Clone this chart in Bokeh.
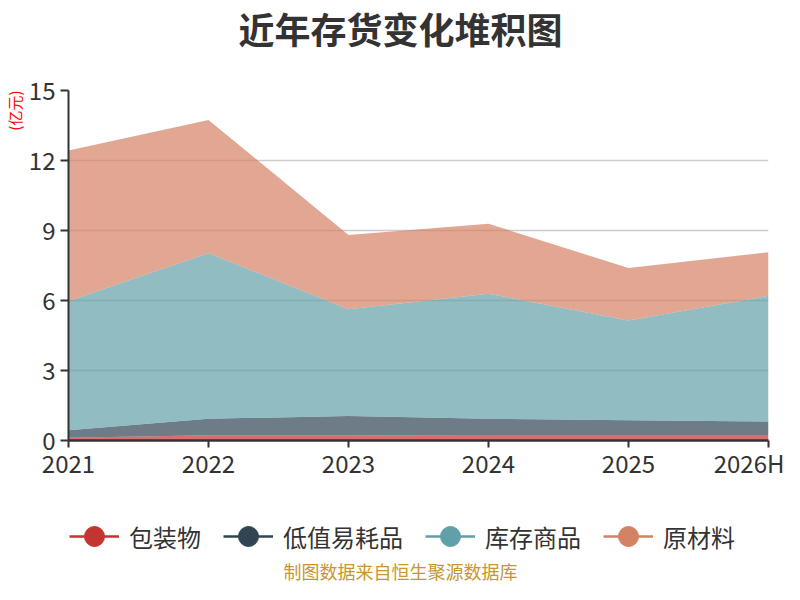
import numpy as np
from bokeh.plotting import figure
from bokeh.layouts import column
from bokeh.models import (ColumnDataSource, Range1d, FixedTicker, Legend, LegendItem,
                          Title, Label)
from bokeh.embed import file_html
from bokeh.resources import INLINE

years = ["2021", "2022", "2023", "2024", "2025", "2026H"]
packaging = [0.12, 0.23, 0.23, 0.20, 0.20, 0.20]      # 包装物
low_value = [0.32, 0.70, 0.82, 0.73, 0.67, 0.61]      # 低值易耗品
goods = [5.54, 7.10, 4.58, 5.36, 4.27, 5.39]          # 库存商品
raw = [6.45, 5.71, 3.18, 3.00, 2.25, 1.87]            # 原材料
names = ["包装物", "低值易耗品", "库存商品", "原材料"]
colors = ["#c23531", "#2f4554", "#61a0a8", "#d48265"]
y_ticks = [0, 3, 6, 9, 12, 15]

FONT = "Noto Sans CJK SC"
W = 784
TOP_H, MAIN_H, BOT_H = 70, 420, 94


def blank(height):
    f = figure(width=W, height=height, x_range=Range1d(0, 1), y_range=Range1d(0, 1),
               output_backend="svg", toolbar_location=None,
               x_axis_location=None, y_axis_location=None,
               min_border=0, min_border_left=0, min_border_right=0,
               min_border_top=0, min_border_bottom=0)
    f.outline_line_color = None
    f.xgrid.visible = False
    f.ygrid.visible = False
    return f


# ---- title strip (frame is aligned with the main chart's frame: x from 68 to 768)
top = blank(TOP_H)
top.add_layout(Label(x=332, y=43, x_units="screen", y_units="screen", text="近年存货变化堆积图",
                     text_font=FONT, text_font_size="36px", text_font_style="bold",
                     text_color="#333333", text_align="center", text_baseline="middle"))

# ---- main chart
xs = list(range(len(years)))
src = ColumnDataSource(dict(x=xs, **{names[0]: packaging, names[1]: low_value,
                                      names[2]: goods, names[3]: raw}))

p = figure(width=W, height=MAIN_H, x_range=Range1d(0, len(years) - 1), y_range=Range1d(0, 15),
           output_backend="svg", toolbar_location=None,
           min_border_left=68, min_border_right=16, min_border_top=20, min_border_bottom=50)
p.outline_line_color = None

p.varea_stack(stackers=names, x="x", color=colors, fill_alpha=0.7, source=src)

p.xgrid.visible = False
p.ygrid.grid_line_color = "#cccccc"
p.ygrid.grid_line_width = 1.5
p.ygrid.ticker = FixedTicker(ticks=y_ticks)

ya = p.yaxis[0]
ya.ticker = FixedTicker(ticks=y_ticks)
ya.major_label_text_font = FONT
ya.major_label_text_font_size = "24px"
ya.major_label_text_color = "#333333"
ya.axis_line_color = "#333333"
ya.axis_line_width = 2
ya.major_tick_line_color = "#333333"
ya.major_tick_line_width = 2
ya.major_tick_out = 8
ya.major_tick_in = 0
ya.minor_tick_line_color = None
ya.major_label_standoff = 5

xa = p.xaxis[0]
xa.ticker = FixedTicker(ticks=xs)
xa.major_label_overrides = {i: y for i, y in enumerate(years)}
xa.major_label_text_font = FONT
xa.major_label_text_font_size = "24px"
xa.major_label_text_color = "#333333"
xa.axis_line_color = "#333333"
xa.axis_line_width = 2.5
xa.major_tick_line_color = "#333333"
xa.major_tick_line_width = 2
xa.major_tick_out = 7
xa.major_tick_in = 0
xa.minor_tick_line_color = None
xa.major_label_standoff = -3

ylab = Title(text="(亿元)", align="right", text_font=FONT, text_font_size="15px",
             text_font_style="normal", text_color="#ff0000", standoff=2)
p.add_layout(ylab, "left")

# ---- legend + source strip
bot = blank(BOT_H)
items = []
for n, c in zip(names, colors):
    dummy = ColumnDataSource(dict(x=np.array([np.nan]), y=np.array([np.nan])))
    lr = bot.line("x", "y", source=dummy, line_color=c, line_width=2.5)
    sr = bot.scatter("x", "y", source=dummy, marker="circle", size=20, fill_color=c, line_color=c)
    items.append(LegendItem(label=n, renderers=[lr, sr]))

legend = Legend(items=items, orientation="horizontal", location=(1, 23),
                border_line_color=None, background_fill_alpha=0, padding=0, margin=0,
                spacing=22, glyph_width=50, glyph_height=50, label_standoff=10,
                label_text_font=FONT, label_text_font_size="24px", label_text_color="#333333",
                label_text_baseline="middle", label_height=50)
bot.add_layout(legend, "center")

bot.add_layout(Label(x=332, y=14, x_units="screen", y_units="screen",
                     text="制图数据来自恒生聚源数据库",
                     text_font=FONT, text_font_size="18px", text_color="#c8962d",
                     text_align="center", text_baseline="middle"))

layout = column(top, p, bot, spacing=0)
open("out.html", "w").write(file_html(layout, INLINE))
